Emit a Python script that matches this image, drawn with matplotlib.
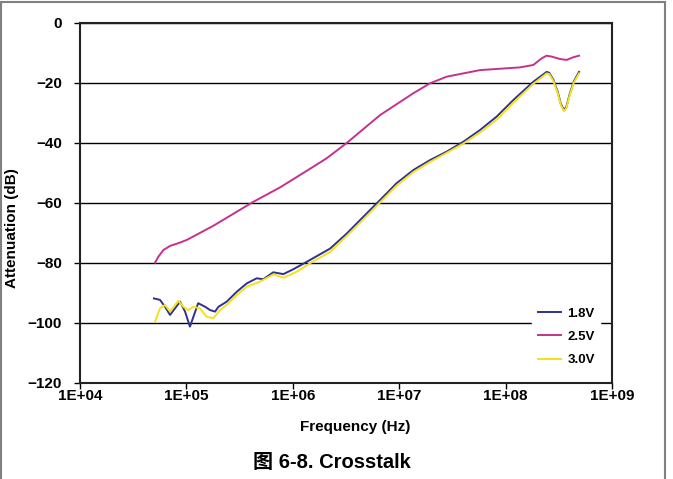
import math
import matplotlib
matplotlib.use("Agg")
import matplotlib.pyplot as plt
from matplotlib.patches import Rectangle
from matplotlib.ticker import FixedLocator, FuncFormatter, NullLocator

plt.rcParams['font.family'] = ['Liberation Sans', 'Noto Sans CJK SC', 'DejaVu Sans']
plt.rcParams['font.weight'] = 'bold'

# 1.8V
freq_18 = [4.95e4, 5.65e4, 6.30e4, 7.02e4, 7.82e4, 8.71e4, 9.71e4, 1.08e5, 1.21e5,
           1.29e5, 1.50e5, 1.67e5, 1.86e5, 2.00e5, 2.39e5, 2.97e5, 3.69e5, 4.58e5,
           5.28e5, 6.56e5, 8.15e5, 1.01e6, 1.45e6, 2.24e6, 3.21e6, 4.60e6, 6.61e6,
           9.46e6, 1.36e7, 1.95e7, 2.79e7, 4.00e7, 5.74e7, 8.24e7, 1.18e8, 1.82e8,
           2.43e8, 2.57e8, 2.82e8, 3.09e8, 3.31e8, 3.54e8, 3.72e8, 3.98e8, 4.37e8, 4.90e8]
att_18 = [-91.8, -92.3, -94.6, -97.3, -95.1, -92.9, -96.2, -101.2, -96.2,
          -93.4, -94.6, -95.7, -96.2, -94.6, -92.9, -89.6, -86.8, -85.1,
          -85.4, -83.1, -83.7, -82.1, -79.0, -75.2, -70.2, -64.6, -59.0,
          -53.4, -49.0, -45.7, -42.9, -39.6, -35.7, -31.2, -25.7, -19.6,
          -16.3, -16.6, -19.0, -23.0, -27.0, -29.0, -28.0, -24.0, -19.5, -16.3]

# 2.5V
freq_25 = [5.07e4, 5.45e4, 6.07e4, 7.02e4, 8.71e4, 1.01e5, 1.79e5, 4.26e5, 7.59e5,
           1.56e6, 2.08e6, 3.21e6, 6.61e6, 1.00e7, 1.36e7, 1.95e7, 2.79e7, 5.74e7,
           1.36e8, 1.82e8, 2.18e8, 2.43e8, 2.71e8, 3.24e8, 3.75e8, 4.34e8, 4.90e8]
att_25 = [-79.9, -77.9, -75.7, -74.3, -73.2, -72.3, -67.6, -59.6, -54.8,
          -47.9, -45.1, -40.0, -30.7, -26.5, -23.4, -20.1, -17.9, -15.7,
          -14.8, -14.0, -11.8, -10.9, -11.2, -12.0, -12.3, -11.4, -10.9]

# 3.0V
freq_30 = [5.07e4, 5.65e4, 6.30e4, 7.02e4, 8.40e4, 9.36e4, 1.04e5, 1.16e5, 1.34e5,
           1.55e5, 1.79e5, 2.07e5, 2.39e5, 2.97e5, 3.69e5, 4.92e5, 6.56e5, 8.15e5,
           1.09e6, 1.45e6, 2.24e6, 3.21e6, 4.60e6, 6.61e6, 9.46e6, 1.36e7, 1.95e7,
           2.79e7, 4.00e7, 5.74e7, 8.24e7, 1.18e8, 1.82e8, 2.43e8, 2.57e8, 2.82e8,
           3.09e8, 3.31e8, 3.54e8, 3.72e8, 3.98e8, 4.37e8, 4.90e8]
att_30 = [-99.6, -95.1, -94.0, -96.2, -92.6, -94.6, -95.7, -94.6, -95.1,
          -97.9, -98.4, -95.7, -94.0, -90.7, -87.9, -86.2, -83.8, -84.9,
          -82.9, -80.1, -76.3, -71.0, -65.5, -59.8, -54.2, -49.7, -46.3,
          -43.3, -40.2, -36.5, -32.2, -26.6, -20.3, -16.8, -17.0, -19.4,
          -23.4, -27.4, -29.4, -28.4, -24.4, -19.9, -16.8]

labels = ["1.8V", "2.5V", "3.0V"]
colors = ["#2E3192", "#C4318E", "#F5E11A"]
x_ticks = [1e4, 1e5, 1e6, 1e7, 1e8, 1e9]
y_ticks = [0, -20, -40, -60, -80, -100, -120]

fig = plt.figure(figsize=(6.73, 4.79), dpi=100)
ax = fig.add_axes([80/673, 1 - 383/479, 532/673, 360/479])

ax.plot(freq_18, att_18, color=colors[0], lw=1.4, label=labels[0], zorder=3)
ax.plot(freq_25, att_25, color=colors[1], lw=1.4, label=labels[1], zorder=3)
ax.plot(freq_30, att_30, color=colors[2], lw=1.4, label=labels[2], zorder=4)

ax.set_xscale("log")
ax.set_xlim(1e4, 1e9)
ax.set_ylim(-120, 0)
ax.xaxis.set_major_locator(FixedLocator(x_ticks))
ax.xaxis.set_minor_locator(NullLocator())
ax.xaxis.set_major_formatter(FuncFormatter(lambda v, p: "1E+%02d" % round(math.log10(v))))
ax.yaxis.set_major_locator(FixedLocator(y_ticks))
ax.yaxis.set_major_formatter(FuncFormatter(lambda v, p: ("\u2212%d" % -v) if v < 0 else "%d" % v))
ax.tick_params(axis="both", direction="out", length=4, width=1, labelsize=11, colors="black")
ax.tick_params(axis="x", pad=0)
ax.tick_params(axis="y", pad=9)
ax.grid(axis="y", color="black", lw=1)
ax.set_axisbelow(True)
for s in ax.spines.values():
    s.set_color("#222222")
    s.set_linewidth(1.5)

leg = ax.legend(loc="lower right", bbox_to_anchor=(0.99, 0.013), frameon=True,
                fancybox=False, edgecolor="white", framealpha=1,
                handlelength=1.8, labelspacing=0.85, handletextpad=0.45,
                prop={"weight": "bold", "size": 9.5})

fig.text(355/673, 1 - 427/479, "Frequency (Hz)", ha="center", va="center", fontsize=11, fontweight="bold")
fig.text(12/673, 1 - 228/479, "Attenuation (dB)", ha="center", va="center", rotation=90,
         fontsize=11, fontweight="bold")
fig.text(332/673, 1 - 462/479, "图 6-8. Crosstalk", ha="center", va="center", fontsize=14.5,
         fontweight="bold")

fig.add_artist(Rectangle((1/673, -0.05), 664/673, 1.05 - 2/479, transform=fig.transFigure,
                         fill=False, edgecolor="#808080", lw=1.5, clip_on=False))

fig.savefig("out.png", dpi=100)
